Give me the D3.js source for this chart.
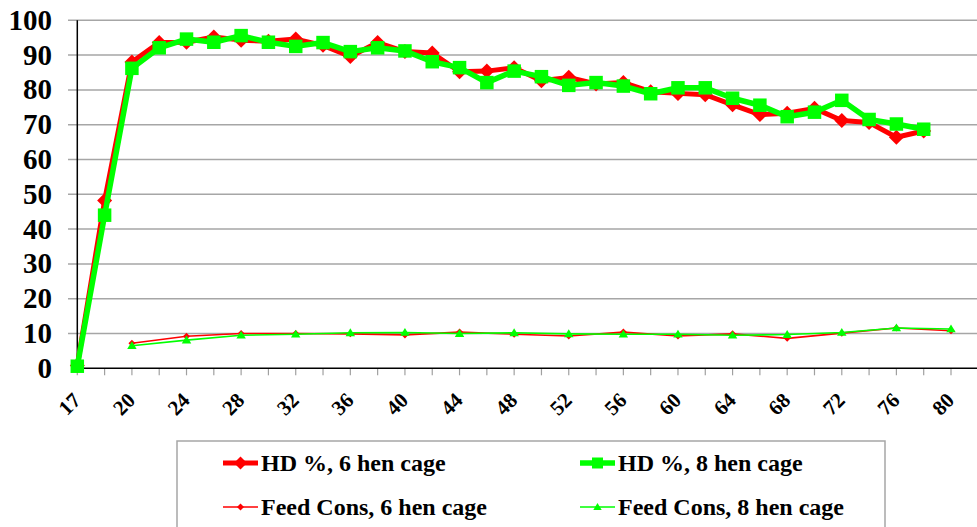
<!DOCTYPE html>
<html>
<head>
<meta charset="utf-8">
<script src="https://cdn.jsdelivr.net/npm/d3@7"></script>
</head>
<body style="margin:0">
<svg id="chart" width="977" height="527"></svg>
<script>
// Age of flock in weeks (category axis)
const weeks = [17, 18, 20, 22, 24, 26, 28, 30, 32, 34, 36, 38, 40, 42, 44, 46, 48, 50,
               52, 54, 56, 58, 60, 62, 64, 66, 68, 70, 72, 74, 76, 78, 80];
// Weeks that carry a printed label
const labelWeeks = [17, 20, 24, 28, 32, 36, 40, 44, 48, 52, 56, 60, 64, 68, 72, 76, 80];

// Hen-day production (%)
const hd6 = [0.8, 48.2, 88.0, 93.6, 93.7, 95.2, 94.3, 94.0, 94.6, 92.8, 89.6, 93.6, 91.0, 90.6,
             85.2, 85.4, 86.4, 82.6, 83.6, 81.7, 82.1, 79.5, 79.0, 78.6, 75.7, 72.9, 73.3, 74.7,
             71.2, 70.6, 66.4, 68.2, null];
const hd8 = [0.6, 44.0, 86.2, 92.1, 94.6, 93.7, 95.6, 93.7, 92.5, 93.6, 91.0, 92.1, 91.2, 88.1,
             86.4, 82.1, 85.4, 83.8, 81.3, 82.1, 81.1, 78.9, 80.6, 80.6, 77.6, 75.6, 72.3, 73.6,
             77.0, 71.5, 70.2, 68.7, null];

// Feed consumption, recorded every four weeks
const feedWeeks = [20, 24, 28, 32, 36, 40, 44, 48, 52, 56, 60, 64, 68, 72, 76, 80];
const feed6 = [7.2, 9.2, 10.0, 10.0, 9.9, 9.6, 10.4, 9.8, 9.3, 10.4, 9.3, 9.9, 8.6, 10.1, 11.6, 10.8];
const feed8 = [6.5, 8.1, 9.5, 9.8, 10.2, 10.3, 10.0, 10.2, 9.9, 9.8, 9.8, 9.5, 9.7, 10.3, 11.6, 11.3];

const yTicks = [0, 10, 20, 30, 40, 50, 60, 70, 80, 90, 100];

const seriesNames = ["HD %, 6 hen cage", "HD %, 8 hen cage",
                     "Feed Cons, 6 hen cage", "Feed Cons, 8 hen cage"];
const RED = "#ff0000", GREEN = "#00ff00";

const svg = d3.select("#chart");
const plotLeft = 77.3, plotRight = 977, plotTop = 20.3, plotBottom = 368.3;

const x = d3.scalePoint().domain(weeks).range([plotLeft, 951]);
const y = d3.scaleLinear().domain([0, 100]).range([plotBottom, plotTop]);

function serifText(sel, size) {
  sel.style("font-family", "'Times New Roman'")
     .style("font-weight", "bold")
     .style("font-size", size + "px")
     .style("fill", "#000");
}

// Horizontal gridlines
svg.append("g").selectAll("line").data(yTicks.slice(1)).join("line")
  .attr("x1", 68).attr("x2", plotRight)
  .attr("y1", d => y(d)).attr("y2", d => y(d))
  .attr("stroke", "#a6a6a6").attr("stroke-width", 1.5);

// Y axis labels
svg.append("g").selectAll("text").data(yTicks).join("text")
  .attr("x", 52).attr("y", d => y(d) + 9.5)
  .attr("text-anchor", "end")
  .text(d => d)
  .call(serifText, 29);

// X tick marks at every category
svg.append("g").selectAll("line").data(weeks).join("line")
  .attr("x1", d => x(d)).attr("x2", d => x(d))
  .attr("y1", plotBottom).attr("y2", plotBottom + 7)
  .attr("stroke", "#a0a0a0").attr("stroke-width", 1.2);

// X axis labels, rotated
svg.append("g").selectAll("text").data(labelWeeks).join("text")
  .attr("text-anchor", "end")
  .attr("transform", d => `translate(${x(d) + 4.5},${plotBottom + 33.3}) rotate(-45)`)
  .text(d => d)
  .call(serifText, 21);

// Axis lines
svg.append("line").attr("x1", plotLeft).attr("x2", plotLeft)
  .attr("y1", plotTop).attr("y2", plotBottom)
  .attr("stroke", "#000").attr("stroke-width", 1.5);
svg.append("line").attr("x1", plotLeft).attr("x2", plotRight)
  .attr("y1", plotBottom).attr("y2", plotBottom)
  .attr("stroke", "#000").attr("stroke-width", 1.5);

// Marker shapes
const diamond = r => `M0,${-r}L${r},0L0,${r}L${-r},0Z`;
const square = s => `M${-s/2},${-s/2}h${s}v${s}h${-s}Z`;
const triangle = r => `M0,${-r}L${r*1.05},${r*0.75}L${-r*1.05},${r*0.75}Z`;

function drawSeries(xs, vals, color, width, shape) {
  const pts = xs.map((w, i) => ({ w, v: vals[i] })).filter(d => d.v != null);
  const line = d3.line().x(d => x(d.w)).y(d => y(d.v));
  const g = svg.append("g");
  g.append("path").datum(pts).attr("d", line)
    .attr("fill", "none").attr("stroke", color)
    .attr("stroke-width", width).attr("stroke-linejoin", "round");
  g.selectAll("path.m").data(pts).join("path").attr("class", "m")
    .attr("d", shape)
    .attr("transform", d => `translate(${x(d.w)},${y(d.v)})`)
    .attr("fill", color);
}

drawSeries(weeks, hd6, RED, 5, diamond(7.5));
drawSeries(weeks, hd8, GREEN, 5.5, square(13.5));
drawSeries(feedWeeks, feed6, RED, 1.6, diamond(3.5));
drawSeries(feedWeeks, feed8, GREEN, 1.6, triangle(4.5));

// Legend
const legend = svg.append("g");
legend.append("rect").attr("x", 177).attr("y", 441).attr("width", 708).attr("height", 110)
  .attr("fill", "#fff").attr("stroke", "#a6a6a6").attr("stroke-width", 1.5);

const legendItems = [
  { name: seriesNames[0], color: RED,   w: 5,   shape: diamond(6.5),  x: 223, y: 463 },
  { name: seriesNames[1], color: GREEN, w: 5.5, shape: square(11),    x: 580, y: 463 },
  { name: seriesNames[2], color: RED,   w: 1.6, shape: diamond(3.5),  x: 223, y: 507 },
  { name: seriesNames[3], color: GREEN, w: 1.6, shape: triangle(4),   x: 580, y: 507 }
];
const li = legend.selectAll("g.item").data(legendItems).join("g").attr("class", "item")
  .attr("transform", d => `translate(${d.x},${d.y})`);
li.append("line").attr("x1", 0).attr("x2", 35).attr("y1", 0).attr("y2", 0)
  .attr("stroke", d => d.color).attr("stroke-width", d => d.w);
li.append("path").attr("d", d => d.shape).attr("transform", "translate(17.5,0)")
  .attr("fill", d => d.color);
li.append("text").text(d => d.name)
  .attr("x", 38).attr("y", 8)
  .call(serifText, 24);
</script>
</body>
</html>
